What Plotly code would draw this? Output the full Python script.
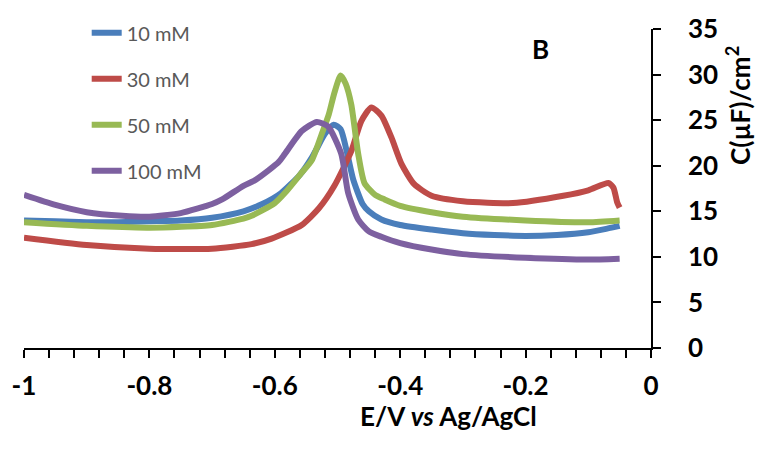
import plotly.graph_objects as go

# ---- data ----
names = ["10 mM", "30 mM", "50 mM", "100 mM"]
colors = ["#4A7EBB", "#BE4B48", "#98B954", "#7D60A0"]

x_10 = [-1, -0.95, -0.9, -0.85, -0.8, -0.75, -0.7, -0.65, -0.62, -0.59, -0.56, -0.54, -0.52,
        -0.506, -0.495, -0.485, -0.475, -0.46, -0.45, -0.43, -0.4, -0.35, -0.3, -0.25, -0.2,
        -0.15, -0.1, -0.07, -0.05]
y_10 = [14.0, 13.9, 13.8, 13.8, 13.9, 14.0, 14.3, 15.0, 15.8, 17.0, 19.0, 21.0, 23.5,
        24.5, 24.0, 21.5, 18.5, 15.8, 15.0, 14.1, 13.5, 13.0, 12.6, 12.4, 12.3,
        12.4, 12.7, 13.1, 13.4]

x_30 = [-1, -0.9, -0.8, -0.7, -0.637, -0.605, -0.557, -0.53, -0.505, -0.478, -0.462, -0.446,
        -0.43, -0.414, -0.398, -0.378, -0.35, -0.3, -0.22, -0.14, -0.1, -0.068, -0.06, -0.054,
        -0.05]
y_30 = [12.1, 11.3, 10.9, 10.9, 11.4, 12.0, 13.5, 15.3, 17.8, 21.6, 24.9, 26.4,
        25.5, 23.1, 20.2, 18.0, 16.7, 16.1, 15.9, 16.7, 17.3, 18.1, 17.6, 16.0,
        15.4]

x_50 = [-1, -0.9, -0.8, -0.7, -0.65, -0.637, -0.6, -0.584, -0.56, -0.541, -0.525, -0.514,
        -0.505, -0.495, -0.487, -0.478, -0.467, -0.457, -0.44, -0.425, -0.4, -0.35, -0.3,
        -0.2, -0.1, -0.05]
y_50 = [13.8, 13.4, 13.2, 13.5, 14.2, 14.5, 15.9, 17.0, 19.0, 20.6, 23.5, 25.6,
        28.0, 29.9, 29.0, 26.7, 21.3, 18.1, 16.8, 16.3, 15.6, 14.9, 14.4,
        14.0, 13.8, 14.0]

x_100 = [-1, -0.95, -0.9, -0.843, -0.8, -0.75, -0.7, -0.684, -0.65, -0.632, -0.61, -0.594,
         -0.584, -0.557, -0.533, -0.515, -0.494, -0.483, -0.467, -0.45, -0.43, -0.4, -0.35,
         -0.3, -0.2, -0.1, -0.05]
y_100 = [16.8, 15.7, 14.9, 14.5, 14.4, 14.8, 15.8, 16.3, 17.8, 18.4, 19.5, 20.4,
         21.3, 23.8, 24.8, 24.3, 21.3, 17.0, 14.1, 12.8, 12.2, 11.5, 10.8,
         10.3, 9.9, 9.7, 9.8]

xs = [x_10, x_30, x_50, x_100]
ys = [y_10, y_30, y_50, y_100]

x_tickvals = [-1, -0.8, -0.6, -0.4, -0.2, 0]
x_ticktext = ["-1", "-0.8", "-0.6", "-0.4", "-0.2", "0"]
y_tickvals = [0, 5, 10, 15, 20, 25, 30, 35]

FONT = "Lato, 'Open Sans', sans-serif"

fig = go.Figure()
for i in range(4):
    fig.add_trace(go.Scatter(
        x=xs[i], y=ys[i], mode="lines", name=names[i],
        legendgroup=names[i],
        line=dict(color=colors[i], width=6, shape="spline", smoothing=0.6),
    ))

fig.update_layout(
    width=759, height=450,
    margin=dict(l=21, r=108, t=22, b=102),
    paper_bgcolor="white", plot_bgcolor="white",
    font=dict(family=FONT, color="black"),
    showlegend=True,
    legend=dict(
        x=0.1, y=1.049, xanchor="left", yanchor="top",
        bgcolor="rgba(0,0,0,0)", borderwidth=0,
        font=dict(family=FONT, size=20, color="#595959"),
        tracegroupgap=17,
    ),
    xaxis=dict(
        range=[-1, 0], tickvals=x_tickvals, ticktext=x_ticktext,
        showgrid=False, zeroline=False,
        showline=True, linecolor="black", linewidth=1.5,
        ticks="outside", ticklen=8, tickwidth=1.5, tickcolor="black",
        tickfont=dict(family=FONT, size=26, color="black", weight="bold"),
        ticklabelstandoff=6,
        minor=dict(dtick=0.04, ticks="outside", ticklen=8, tickwidth=1.5, tickcolor="black"),
    ),
    yaxis=dict(
        range=[0, 35], tickvals=y_tickvals, side="right",
        showgrid=False, zeroline=False,
        showline=True, linecolor="black", linewidth=1.5,
        ticks="outside", ticklen=8, tickwidth=1.5, tickcolor="black",
        tickfont=dict(family=FONT, size=26, color="black", weight="bold"),
        ticklabelstandoff=22,
    ),
    annotations=[
        dict(text="B", xref="paper", yref="paper", x=(540 - 21) / 630, y=(348 - 42) / 326,
             xanchor="center", yanchor="middle", showarrow=False,
             font=dict(family=FONT, size=26, color="black", weight="bold")),
        dict(text="E/V <i>vs</i> Ag/AgCl", xref="paper", yref="paper",
             x=(448 - 21) / 630, y=(348 - 417) / 326, xanchor="center", yanchor="middle",
             showarrow=False,
             font=dict(family=FONT, size=26, color="black", weight="bold")),
        dict(text="C(µF)/cm<sup>2</sup>", xref="paper", yref="paper",
             x=(739 - 21) / 630, y=(348 - 100) / 326, xanchor="center", yanchor="middle",
             showarrow=False, textangle=-90,
             font=dict(family=FONT, size=26, color="black", weight="bold")),
    ],
)

fig.write_html("out.html")
